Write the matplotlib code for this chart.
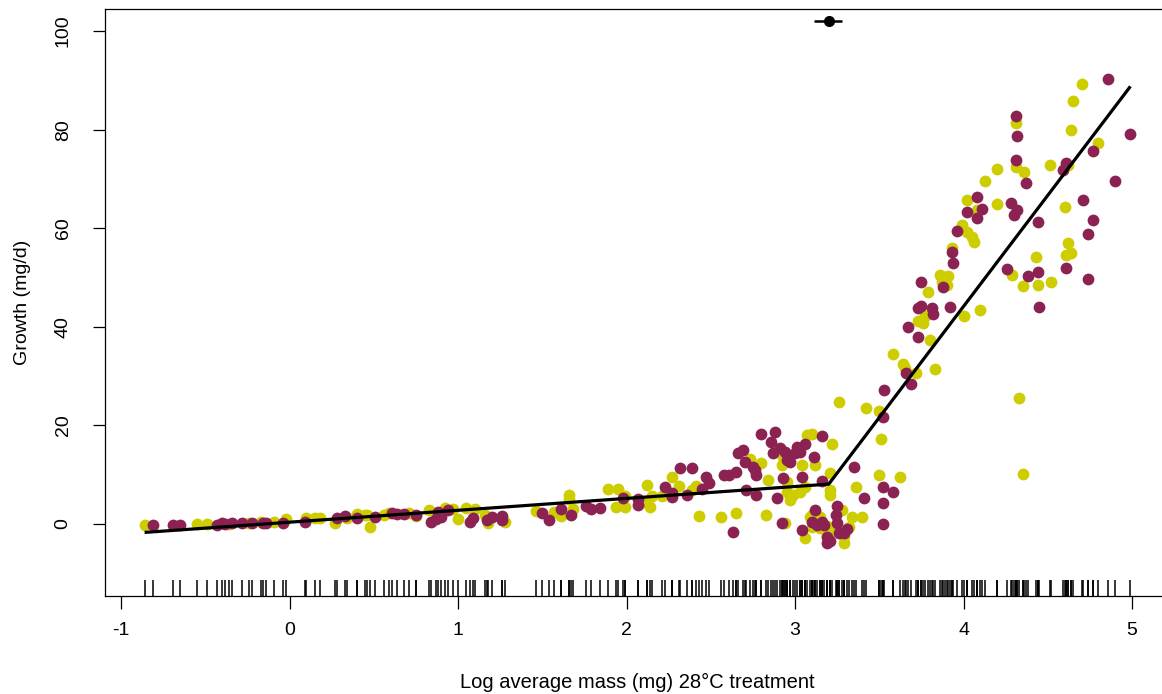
import matplotlib
matplotlib.use("Agg")
import matplotlib.pyplot as plt
import numpy as np

plt.rcParams['font.family'] = ['Liberation Sans', 'DejaVu Sans']

# ---- data ----
yellow_x = [-0.86, -0.55, -0.49, -0.36, -0.24, -0.17, -0.09, -0.02, 0.10, 0.15, 0.18, 0.27,
            0.34, 0.40, 0.45, 0.46, 0.48, 0.56, 0.59, 0.71, 0.75, 0.83, 0.92, 0.97, 1.00,
            1.05, 1.10, 1.16, 1.18, 1.28, 1.46,
            1.57, 1.61, 1.66, 1.66, 1.68, 1.89, 1.94, 1.95, 1.99, 1.99, 2.12, 2.12, 2.14,
            2.15, 2.21, 2.27, 2.31, 2.39, 2.41, 2.43, 2.56,
            2.65, 2.73, 2.80, 2.83, 2.84, 2.93, 2.92, 2.95, 2.94, 2.95, 2.97, 2.99, 3.04,
            3.03, 3.06, 3.07, 3.10, 3.12, 3.06, 3.10, 3.09, 3.10, 3.15, 3.15, 3.19, 3.19,
            3.21, 3.22, 3.21, 3.21, 3.21, 3.25, 3.28, 3.29, 3.29, 3.34, 3.32, 3.36, 3.40,
            3.26, 3.42, 3.50, 3.51, 3.50, 3.62,
            3.64, 3.65, 3.72, 3.83, 3.58, 3.80, 3.73, 3.76, 3.77, 3.79, 4.00, 4.10, 3.86,
            3.89, 3.91, 3.87, 3.90, 3.93, 3.99, 4.02, 4.05, 4.06, 4.02, 4.08, 4.20, 4.29,
            4.35, 4.43, 4.44, 4.52, 4.33, 4.35, 4.60, 4.62, 4.61, 4.64,
            4.70, 4.65, 4.64, 4.80, 4.31, 4.31, 4.36, 4.20, 4.13, 4.51, 4.62]
yellow_y = [-0.2, 0.0, 0.0, 0.0, 0.3, 0.5, 0.4, 1.0, 1.2, 1.2, 1.2, 0.2,
            1.2, 2.0, 1.8, 1.8, -0.6, 1.8, 2.2, 2.2, 1.6, 2.8, 3.2, 3.0, 1.0,
            3.2, 3.0, 1.8, 0.2, 0.4, 2.7,
            2.4, 1.6, 5.9, 5.1, 3.0, 7.1, 3.4, 7.1, 5.7, 3.4, 7.9, 4.3, 3.4,
            5.7, 5.7, 9.5, 7.7, 6.9, 7.7, 1.6, 1.4,
            2.2, 13.2, 12.4, 1.8, 8.9, 13.6, 12.0, 8.5, 0.2, 6.5, 4.9, 5.9, 12.0,
            6.5, 7.5, 18.1, 18.3, 12.0, -2.8, 1.8, 1.4, -0.6, -0.8, 1.4, -0.4, -2.2,
            -1.6, 16.2, 10.3, 6.9, 5.9, -1.2, 2.8, -2.4, -3.9, 1.4, -0.6, 7.5, 1.4,
            24.7, 23.5, 22.9, 17.2, 9.9, 9.5,
            32.5, 31.6, 30.6, 31.4, 34.5, 37.3, 41.2, 40.8, 42.2, 47.1, 42.2, 43.4, 50.5,
            49.9, 50.3, 49.1, 48.5, 56.0, 60.6, 59.2, 58.2, 57.2, 65.7, 63.7, 64.9, 50.5,
            48.3, 54.2, 48.5, 49.1, 25.6, 10.1, 64.3, 57.0, 54.6, 55.0,
            89.2, 85.8, 79.9, 77.3, 81.3, 72.4, 71.4, 72.0, 69.6, 72.8, 72.8]

maroon_x = [-0.81, -0.69, -0.65, -0.43, -0.40, -0.38, -0.34, -0.28, -0.22, -0.16, -0.14,
            -0.04, 0.09, 0.28, 0.33, 0.40, 0.51, 0.61, 0.64, 0.68, 0.75, 0.84, 0.87, 0.90,
            0.88, 0.94, 1.07, 1.09, 1.17, 1.20, 1.26, 1.26, 1.50, 1.54,
            1.61, 1.67, 1.76, 1.79, 1.84, 1.98, 2.07, 2.07, 2.23, 2.27, 2.27, 2.32, 2.36,
            2.39, 2.45, 2.47, 2.49, 2.58, 2.61, 2.63, 2.65, 2.66, 2.69, 2.70, 2.71, 2.75,
            2.76, 2.77, 2.77, 2.80, 2.86, 2.88, 2.87, 2.89, 2.91, 2.94, 2.95, 2.93, 2.92,
            2.97, 3.01, 3.03, 3.00, 3.04, 3.06, 3.11, 3.04, 3.12, 3.10, 3.13, 3.16, 3.17,
            3.16, 3.16, 3.19, 3.21, 3.19, 3.25, 3.25, 3.24, 3.26, 3.29, 3.31, 3.35,
            3.53, 3.52, 3.52, 3.58, 3.41, 3.52, 3.52,
            3.66, 3.69, 3.67, 3.73, 3.73, 3.75, 3.81, 3.82, 3.75, 3.92, 3.88, 3.94, 3.93,
            3.96, 4.02, 4.08, 4.11, 4.28, 4.30, 4.32, 4.44, 4.26, 4.38, 4.44, 4.45, 4.71,
            4.61, 4.77, 4.74, 4.74,
            4.86, 4.99, 4.77, 4.31, 4.32, 4.31, 4.37, 4.61, 4.59, 4.90, 4.08]
maroon_y = [-0.2, -0.2, -0.2, -0.2, 0.2, 0.0, 0.2, 0.2, 0.2, 0.2, 0.2,
            0.2, 0.4, 1.2, 1.6, 1.2, 1.4, 2.2, 2.0, 2.0, 1.8, 0.4, 1.0, 1.4,
            2.4, 2.8, 0.4, 1.2, 0.8, 1.4, 1.6, 0.8, 2.2, 0.8,
            3.0, 1.8, 3.6, 3.0, 3.2, 5.3, 5.1, 3.9, 7.5, 6.3, 5.5, 11.4, 5.9,
            11.4, 7.1, 9.5, 8.3, 9.9, 9.9, -1.6, 10.5, 14.4, 15.0, 12.6, 6.9, 11.6,
            11.0, 9.9, 5.9, 18.3, 16.6, 18.7, 14.4, 5.3, 15.4, 14.6, 13.0, 9.3, 0.2,
            12.6, 15.6, 14.6, 14.4, 9.5, 16.2, 13.6, -1.2, 2.8, 0.4, -0.2, 0.4, -0.2,
            17.8, 8.7, -2.6, -3.4, -3.9, 3.7, 0.2, 1.8, -1.8, -1.8, -1.0, 11.6,
            27.2, 21.7, 7.5, 6.5, 5.3, 4.3, 0.0,
            30.6, 28.4, 40.0, 37.9, 43.8, 44.2, 43.8, 42.6, 49.1, 44.0, 48.1, 52.9, 55.2,
            59.4, 63.3, 62.1, 63.9, 65.1, 62.7, 63.7, 61.3, 51.7, 50.3, 51.1, 44.0, 65.7,
            51.9, 61.7, 58.8, 49.7,
            90.3, 79.1, 75.7, 82.8, 78.7, 73.8, 69.2, 73.2, 71.8, 69.6, 66.3]

# segmented fit
fit_x = [-0.86, 3.20, 4.99]
fit_y = [-1.7, 8.1, 88.8]

# breakpoint estimate and CI
bp_x = 3.20
bp_lo, bp_hi = 3.11, 3.28
bp_y = 102

xticks = [-1, 0, 1, 2, 3, 4, 5]
yticks = [0, 20, 40, 60, 80, 100]

W, H = 1162, 694
fig = plt.figure(figsize=(W / 100, H / 100), dpi=100)
ax = fig.add_axes([105 / W, 98 / H, (1170 - 105) / W, 587 / H])

ax.scatter(yellow_x, yellow_y, s=72, color='#CDCD00', linewidths=0, zorder=2)
ax.scatter(maroon_x, maroon_y, s=72, color='#8B2252', linewidths=0, zorder=2)

ax.plot(fit_x, fit_y, color='black', lw=2.3, zorder=3, solid_capstyle='butt')

ax.errorbar([bp_x], [bp_y], xerr=[[bp_x - bp_lo], [bp_hi - bp_x]], fmt='o',
            color='black', ms=7, elinewidth=1.8, capsize=0, zorder=4, clip_on=False)

all_x = np.concatenate([yellow_x, maroon_x])
ax.vlines(all_x, 0, 0.027, transform=ax.get_xaxis_transform(), color='black', lw=1.1)

ax.set_xlim(-1.095, 5.225)
ax.set_ylim(-14.6, 104.5)
ax.set_xticks(xticks)
ax.set_yticks(yticks)
ax.set_xticklabels([str(t) for t in xticks])
ax.set_yticklabels([str(t) for t in yticks])

for s in ax.spines.values():
    s.set_linewidth(0.9)
ax.spines['right'].set_visible(False)

ax.tick_params(axis='both', direction='out', length=9, width=0.9, labelsize=14)
ax.tick_params(axis='x', pad=10)
ax.tick_params(axis='y', pad=15, labelrotation=90)
for lab in ax.get_yticklabels():
    lab.set_va('center')

ax.set_xlabel('Log average mass (mg) 28°C treatment', fontsize=14.5, labelpad=24)
ax.set_ylabel('Growth (mg/d)', fontsize=14, labelpad=17)

fig.savefig('out.png', dpi=100)
